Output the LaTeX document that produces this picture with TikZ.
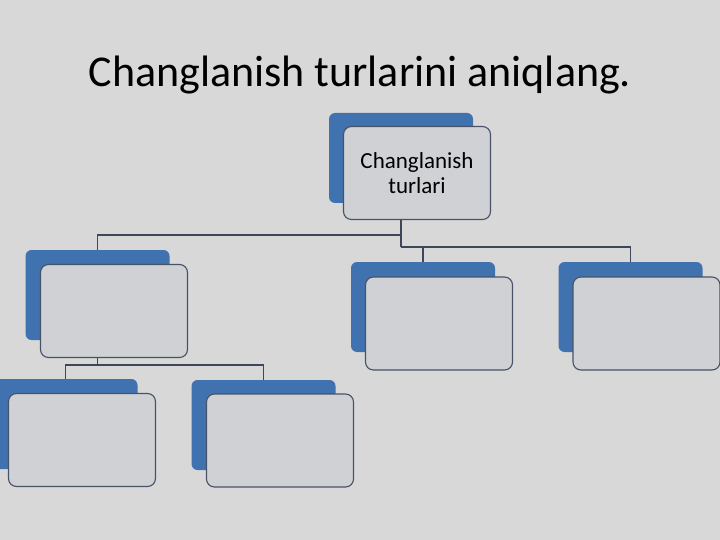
\documentclass[tikz,border=0pt]{standalone}
\usepackage{fontspec}
\setmainfont{Carlito}
\usetikzlibrary{positioning}
\definecolor{bgray}{RGB}{216,216,216}
\definecolor{backblue}{RGB}{64,114,176}
\definecolor{frontfill}{RGB}{207,209,212}
\definecolor{edgegray}{RGB}{72,82,102}
\definecolor{linkgray}{RGB}{60,72,90}

\begin{document}
\begin{tikzpicture}[x=1pt,y=-1pt,
  backbox/.style={fill=backblue,rounded corners=6pt,minimum width=144pt,minimum height=90pt,inner sep=0pt},
  frontbox/.style={fill=frontfill,draw=edgegray,line width=1.1pt,rounded corners=8pt,minimum width=147pt,minimum height=93pt,inner sep=0pt,align=center,font=\fontsize{23}{25}\selectfont},
  link/.style={draw=linkgray,line width=1.3pt}]
\fill[bgray] (0,0) rectangle (720,540);
\useasboundingbox (0,0) rectangle (720,540);
\node[anchor=base,font=\fontsize{44}{50}\selectfont] (title) at (360,87) {Changlanish turlarini aniqlang.};
\coordinate (j1) at (401,235);
\coordinate (j2) at (401,247);
\coordinate (j3) at (97.5,365);
\node[backbox] (topb) at (401,158) {};
\node[backbox] (leftb) at (97.5,295) {};
\node[backbox] (bl1b) at (65.5,424) {};
\node[backbox] (bl2b) at (263.5,425) {};
\node[backbox] (r1b) at (423,307) {};
\node[backbox] (r2b) at (630.5,307) {};
\draw[link] (topb.center) -- (j2);
\draw[link] (j1) -| (leftb.north);
\draw[link] (j2) -| (r1b.north);
\draw[link] (j2) -| (r2b.north);
\draw[link] (leftb.center) -- (j3);
\draw[link] (j3) -| (bl1b.north);
\draw[link] (j3) -| (bl2b.north);
\node[frontbox] (topf) at (417,173) {Changlanish\\turlari};
\node[frontbox] (leftf) at (114,311) {};
\node[frontbox] (bl1f) at (82,440) {};
\node[frontbox] (bl2f) at (280,440.5) {};
\node[frontbox] (r1f) at (439,323.5) {};
\node[frontbox] (r2f) at (646.5,323.5) {};
\end{tikzpicture}
\end{document}
